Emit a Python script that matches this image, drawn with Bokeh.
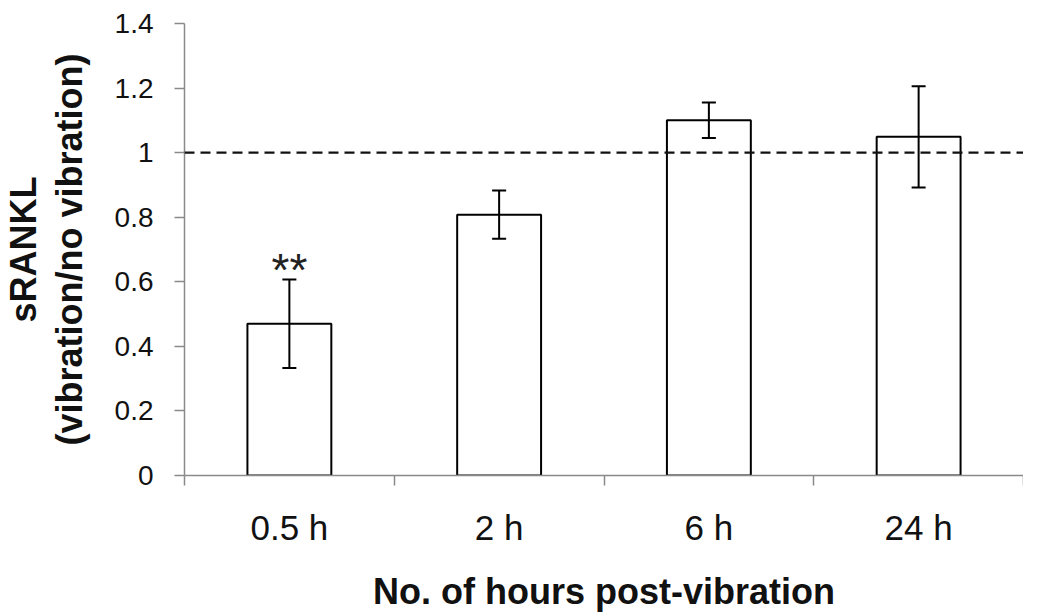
from bokeh.plotting import figure
from bokeh.models import ColumnDataSource, Range1d, FixedTicker, Whisker, TeeHead, Span
from bokeh.core.properties import value
from bokeh.embed import file_html
from bokeh.resources import INLINE

# ---- data ----
categories = ["0.5 h", "2 h", "6 h", "24 h"]
means = [0.470, 0.808, 1.100, 1.049]
errors = [0.137, 0.075, 0.055, 0.157]
significance = ["**", "", "", ""]
y_ticks = [0, 0.2, 0.4, 0.6, 0.8, 1, 1.2, 1.4]
y_tick_labels = ["0", "0.2", "0.4", "0.6", "0.8", "1", "1.2", "1.4"]
reference_level = 1.0
y_max = 1.4

x_pos = [i + 0.5 for i in range(len(categories))]
boundaries = [i for i in range(len(categories) + 1)]

source = ColumnDataSource(dict(
    x=x_pos,
    top=means,
    upper=[m + e for m, e in zip(means, errors)],
    lower=[m - e for m, e in zip(means, errors)],
    sig=significance,
))

FONT = "Liberation Sans"
AXIS_GRAY = "#8a8a8a"

p = figure(width=1023, height=614, output_backend="svg", toolbar_location=None,
           x_range=Range1d(0, len(categories)), y_range=Range1d(0, y_max),
           min_border_left=174, min_border_right=0, min_border_top=23,
           min_border_bottom=139, background_fill_color="white",
           border_fill_color="white")
p.outline_line_color = None
p.xgrid.visible = False
p.ygrid.visible = False

p.vbar(x="x", top="top", width=0.4, bottom=0, source=source,
       fill_color="white", line_color="black", line_width=2)

p.add_layout(Span(location=reference_level, dimension="width",
                  line_color="#111111", line_width=2.2, line_dash="10 6",
                  level="overlay"))

p.add_layout(Whisker(source=source, base="x", upper="upper", lower="lower",
                     line_color="black", line_width=2, level="overlay",
                     upper_head=TeeHead(size=14, line_width=2, line_color="black"),
                     lower_head=TeeHead(size=14, line_width=2, line_color="black")))

p.text(x="x", y="upper", text="sig", source=source,
       text_font=value(FONT), text_font_size="46px", text_align="center",
       text_baseline="alphabetic", y_offset=-10, text_color="#222222")

# x axis
xa = p.xaxis[0]
xa.ticker = FixedTicker(ticks=x_pos, minor_ticks=boundaries)
xa.major_label_overrides = {x: c for x, c in zip(x_pos, categories)}
xa.major_tick_line_color = None
xa.major_tick_out = 10
xa.major_tick_in = 0
xa.minor_tick_out = 10
xa.minor_tick_in = 0
xa.minor_tick_line_color = AXIS_GRAY
xa.minor_tick_line_width = 1.5
xa.axis_line_color = AXIS_GRAY
xa.axis_line_width = 1.5
xa.major_label_text_font = FONT
xa.major_label_text_font_size = "35px"
xa.major_label_text_color = "#111111"
xa.major_label_standoff = 22
xa.axis_label = "No. of hours post-vibration"
xa.axis_label_text_font = FONT
xa.axis_label_text_font_style = "bold"
xa.axis_label_text_font_size = "36px"
xa.axis_label_text_color = "#111111"
xa.axis_label_standoff = 21

# y axis
ya = p.yaxis[0]
ya.ticker = FixedTicker(ticks=y_ticks)
ya.major_label_overrides = {t: l for t, l in zip(y_ticks, y_tick_labels)}
ya.major_tick_out = 10
ya.major_tick_in = 0
ya.major_tick_line_color = AXIS_GRAY
ya.major_tick_line_width = 1.5
ya.minor_tick_line_color = None
ya.axis_line_color = AXIS_GRAY
ya.axis_line_width = 1.5
ya.major_label_text_font = FONT
ya.major_label_text_font_size = "28px"
ya.major_label_text_color = "#111111"
ya.major_label_standoff = 21
ya.axis_label = "sRANKL\n(vibration/no vibration)"
ya.axis_label_text_font = FONT
ya.axis_label_text_font_style = "bold"
ya.axis_label_text_font_size = "36px"
ya.axis_label_text_line_height = 1.1
ya.axis_label_text_color = "#111111"
ya.axis_label_standoff = 22

open("out.html", "w").write(file_html(p, INLINE))
